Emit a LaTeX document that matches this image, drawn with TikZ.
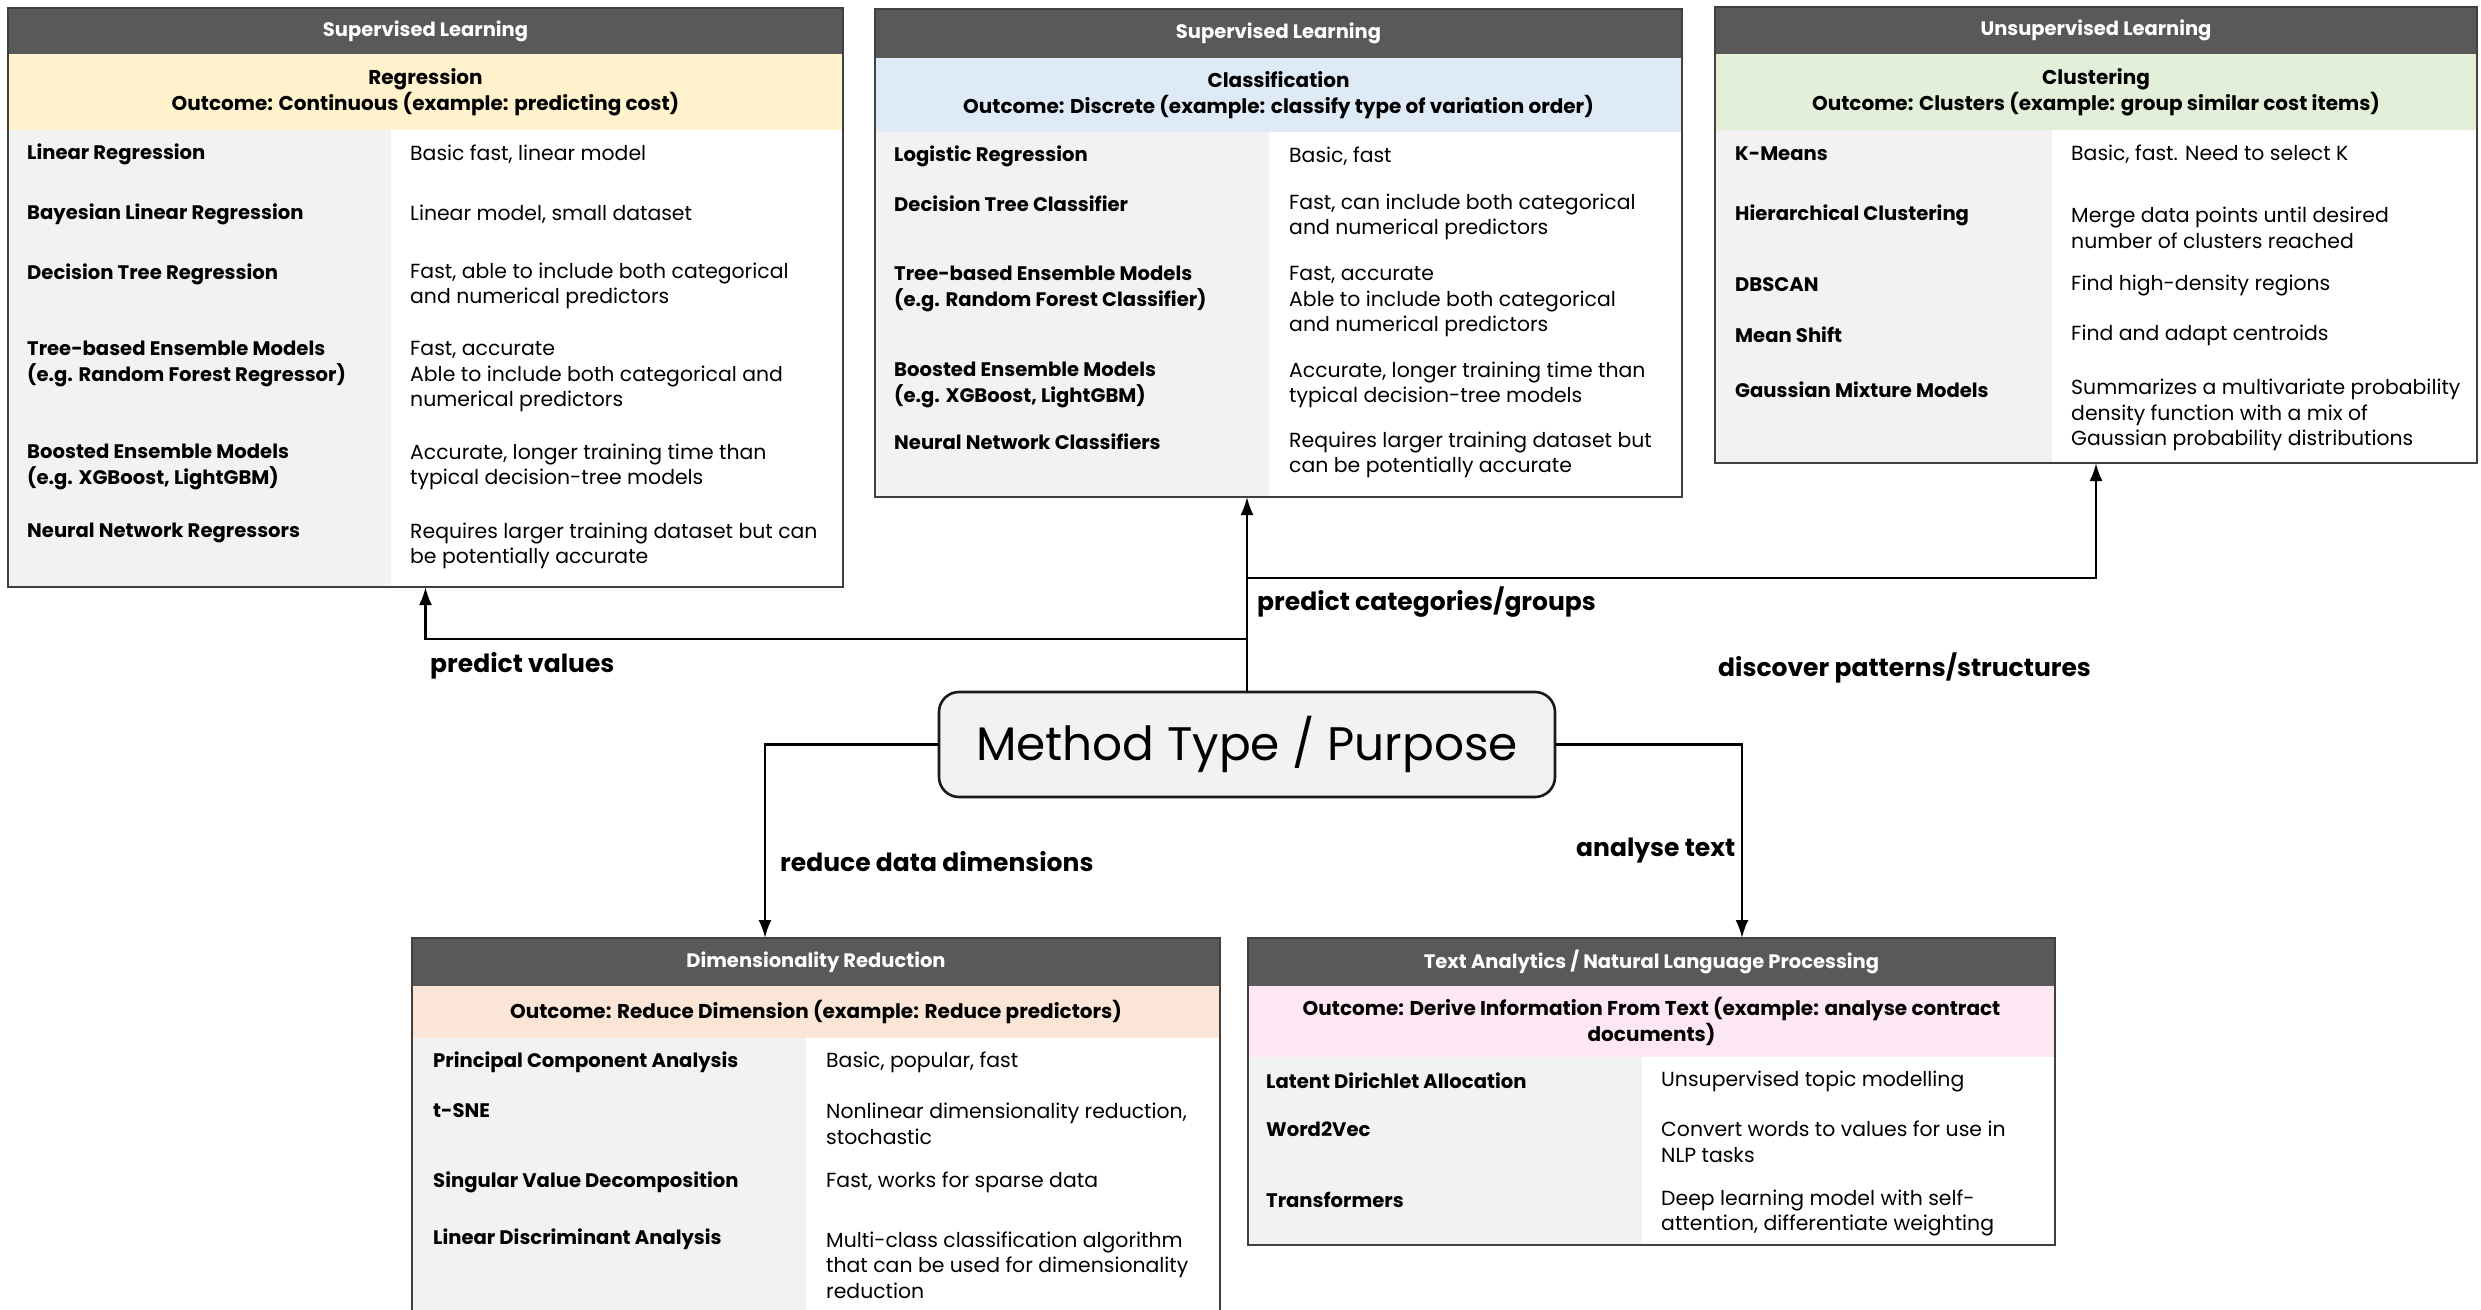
\documentclass[tikz,border=0pt]{standalone}
\usepackage{fontspec}
\setmainfont{Poppins}
\usetikzlibrary{arrows.meta, positioning, fit}
\definecolor{hdGray}{RGB}{89,89,89}
\definecolor{edgeGray}{RGB}{64,64,64}
\definecolor{colGray}{RGB}{242,242,242}
\definecolor{bandYellow}{RGB}{255,242,204}
\definecolor{bandBlue}{RGB}{222,235,247}
\definecolor{bandGreen}{RGB}{226,240,217}
\definecolor{bandPeach}{RGB}{251,229,214}
\definecolor{bandPink}{RGB}{252,231,243}
\newcommand{\hdfont}{\fontsize{19.5}{24}\selectfont\bfseries}
\newcommand{\bandfont}{\fontsize{20}{26}\selectfont\bfseries}
\newcommand{\algofont}{\fontsize{19.6}{25.5}\selectfont\bfseries}
\newcommand{\descfont}{\fontsize{20.4}{25.5}\selectfont}
\newcommand{\lblfont}{\fontsize{25}{30}\selectfont\bfseries}
\newcommand{\methfont}{\fontsize{47}{56}\selectfont}

\begin{document}
\begin{tikzpicture}[x=1pt, y=-1pt,
      hdr/.style={fill=hdGray, text=white, font=\hdfont, anchor=north west, inner sep=0pt, outer sep=0pt},
      band/.style={inner sep=0pt, outer sep=0pt, align=center, font=\bandfont},
      colL/.style={fill=colGray, anchor=north west, inner sep=0pt, outer sep=0pt},
      panel/.style={draw=edgeGray, line width=2.2pt, inner sep=0pt, outer sep=0pt},
      algo/.style={anchor=west, align=left, font=\algofont, inner sep=0pt},
      desc/.style={anchor=west, align=left, font=\descfont, inner sep=0pt},
      lbl/.style={anchor=west, font=\lblfont, inner sep=0pt},
      method/.style={rounded corners=20pt, draw=black!90, line width=2.6pt, fill=colGray, minimum width=616pt,
      minimum height=105pt, font=\methfont, outer sep=0pt},
      arr/.style={-{Latex[length=18pt, width=13pt]}, line width=2.4pt}
    ]
    \useasboundingbox (0,0) rectangle (2481,1309);

    % regression
    \node[hdr, minimum width=835pt, minimum height=46pt] (reghd) at (8,8) {Supervised Learning};
    \node[band, fill=bandYellow, minimum width=835pt, minimum height=76pt, below=0pt of reghd] (regbd) {Regression\\Outcome: Continuous (example: predicting cost)};
    \node[colL, minimum width=383pt, minimum height=457pt] (regcol) at (regbd.south west) {};
    \node[panel, fit=(reghd)(regbd)(regcol)] (reg) {};
    \node[algo] (r1) at (27,154) {Linear Regression};
    \node[desc] (r1d) at (410,154) {Basic fast, linear model};
    \node[algo] (r2) at (27,214) {Bayesian Linear Regression};
    \node[desc] (r2d) at (410,214) {Linear model, small dataset};
    \node[algo] (r3) at (27,274) {Decision Tree Regression};
    \node[desc] (r3d) at (410,286) {Fast, able to include both categorical\\and numerical predictors};
    \node[algo] (r4) at (27,364) {Tree-based Ensemble Models\\(e.g. Random Forest Regressor)};
    \node[desc] (r4d) at (410,377) {Fast, accurate\\Able to include both categorical and\\numerical predictors};
    \node[algo] (r5) at (27,467) {Boosted Ensemble Models\\(e.g. XGBoost, LightGBM)};
    \node[desc] (r5d) at (410,467) {Accurate, longer training time than\\typical decision-tree models};
    \node[algo] (r6) at (27,533) {Neural Network Regressors};
    \node[desc] (r6d) at (410,546) {Requires larger training dataset but can\\be potentially accurate};

    % classification
    \node[hdr, minimum width=807pt, minimum height=49pt] (clshd) at (875,9) {Supervised Learning};
    \node[band, fill=bandBlue, minimum width=807pt, minimum height=74pt, below=0pt of clshd] (clsbd) {Classification\\Outcome: Discrete (example: classify type of variation order)};
    \node[colL, minimum width=394pt, minimum height=365pt] (clscol) at (clsbd.south west) {};
    \node[panel, fit=(clshd)(clsbd)(clscol)] (cls) {};
    \node[algo] (c1) at (894,156) {Logistic Regression};
    \node[desc] (c1d) at (1289,156) {Basic, fast};
    \node[algo] (c2) at (894,204) {Decision Tree Classifier};
    \node[desc] (c2d) at (1289,217) {Fast, can include both categorical\\and numerical predictors};
    \node[algo] (c3) at (894,289) {Tree-based Ensemble Models\\(e.g. Random Forest Classifier)};
    \node[desc] (c3d) at (1289,302) {Fast, accurate\\Able to include both categorical\\and numerical predictors};
    \node[algo] (c4) at (894,385) {Boosted Ensemble Models\\(e.g. XGBoost, LightGBM)};
    \node[desc] (c4d) at (1289,385) {Accurate, longer training time than\\typical decision-tree models};
    \node[algo] (c5) at (894,442) {Neural Network Classifiers};
    \node[desc] (c5d) at (1289,455) {Requires larger training dataset but\\can be potentially accurate};

    % clustering
    \node[hdr, minimum width=762pt, minimum height=47pt] (cluhd) at (1715,7) {Unsupervised Learning};
    \node[band, fill=bandGreen, minimum width=762pt, minimum height=76pt, below=0pt of cluhd] (clubd) {Clustering\\Outcome: Clusters (example: group similar cost items)};
    \node[colL, minimum width=337pt, minimum height=333pt] (clucol) at (clubd.south west) {};
    \node[panel, fit=(cluhd)(clubd)(clucol)] (clu) {};
    \node[algo] (k1) at (1735,154) {K-Means};
    \node[desc] (k1d) at (2071,154) {Basic, fast. Need to select K};
    \node[algo] (k2) at (1735,215) {Hierarchical Clustering};
    \node[desc] (k2d) at (2071,228) {Merge data points until desired\\number of clusters reached};
    \node[algo] (k3) at (1735,285) {DBSCAN};
    \node[desc] (k3d) at (2071,285) {Find high-density regions};
    \node[algo] (k4) at (1735,335) {Mean Shift};
    \node[desc] (k4d) at (2071,335) {Find and adapt centroids};
    \node[algo] (k5) at (1735,390) {Gaussian Mixture Models};
    \node[desc] (k5d) at (2071,415) {Summarizes a multivariate probability\\density function with a mix of\\Gaussian probability distributions};

    % dimensionality reduction
    \node[hdr, minimum width=808pt, minimum height=48pt] (dimhd) at (412,938) {Dimensionality Reduction};
    \node[band, fill=bandPeach, minimum width=808pt, minimum height=52pt, below=0pt of dimhd] (dimbd) {Outcome: Reduce Dimension (example: Reduce predictors)};
    \node[colL, minimum width=394pt, minimum height=290pt] (dimcol) at (dimbd.south west) {};
    \node[panel, fit=(dimhd)(dimbd)(dimcol)] (dim) {};
    \node[algo] (d1) at (433,1062) {Principal Component Analysis};
    \node[desc] (d1d) at (826,1062) {Basic, popular, fast};
    \node[algo] (d2) at (433,1111) {t-SNE};
    \node[desc] (d2d) at (826,1124) {Nonlinear dimensionality reduction,\\stochastic};
    \node[algo] (d3) at (433,1182) {Singular Value Decomposition};
    \node[desc] (d3d) at (826,1182) {Fast, works for sparse data};
    \node[algo] (d4) at (433,1239) {Linear Discriminant Analysis};
    \node[desc] (d4d) at (826,1265) {Multi-class classification algorithm\\that can be used for dimensionality\\reduction};

    % text analytics
    \node[hdr, minimum width=807pt, minimum height=48pt] (txthd) at (1248,938) {Text Analytics / Natural Language Processing};
    \node[band, fill=bandPink, minimum width=807pt, minimum height=71pt, below=0pt of txthd] (txtbd) {Outcome: Derive Information From Text (example: analyse contract\\documents)};
    \node[colL, minimum width=394pt, minimum height=188pt] (txtcol) at (txtbd.south west) {};
    \node[panel, fit=(txthd)(txtbd)(txtcol)] (txt) {};
    \node[algo] (t1) at (1266,1081) {Latent Dirichlet Allocation};
    \node[desc] (t1d) at (1661,1081) {Unsupervised topic modelling};
    \node[algo] (t2) at (1266,1129) {Word2Vec};
    \node[desc] (t2d) at (1661,1142) {Convert words to values for use in\\NLP tasks};
    \node[algo] (t3) at (1266,1200) {Transformers};
    \node[desc] (t3d) at (1661,1213) {Deep learning model with self-\\attention, differentiate weighting};

    % centre and connectors
    \node[method] (meth) at (1247,744.5) {Method Type / Purpose};
    \coordinate (dimin) at (765,938);
    \coordinate (txtin) at (1742,938);

    \draw[arr] (meth.north) -- (meth.north |- cls.south);
    \draw[arr] (meth.north) -- ++(0,-53) -| (reg.south);
    \draw[arr] (meth.north) -- ++(0,-114) -| (clu.south);
    \draw[arr] (meth.west) -| (dimin);
    \draw[arr] (meth.east) -| (txtin);

    \node[lbl] (lv) at (430,666) {predict values};
    \node[lbl] (lc) at (1257,602) {predict categories/groups};
    \node[lbl] (lp) at (1718,668) {discover patterns/structures};
    \node[lbl] (ld) at (780,862) {reduce data dimensions};
    \node[lbl] (lt) at (1576,851) {analyse text};
  \end{tikzpicture}
\end{document}
